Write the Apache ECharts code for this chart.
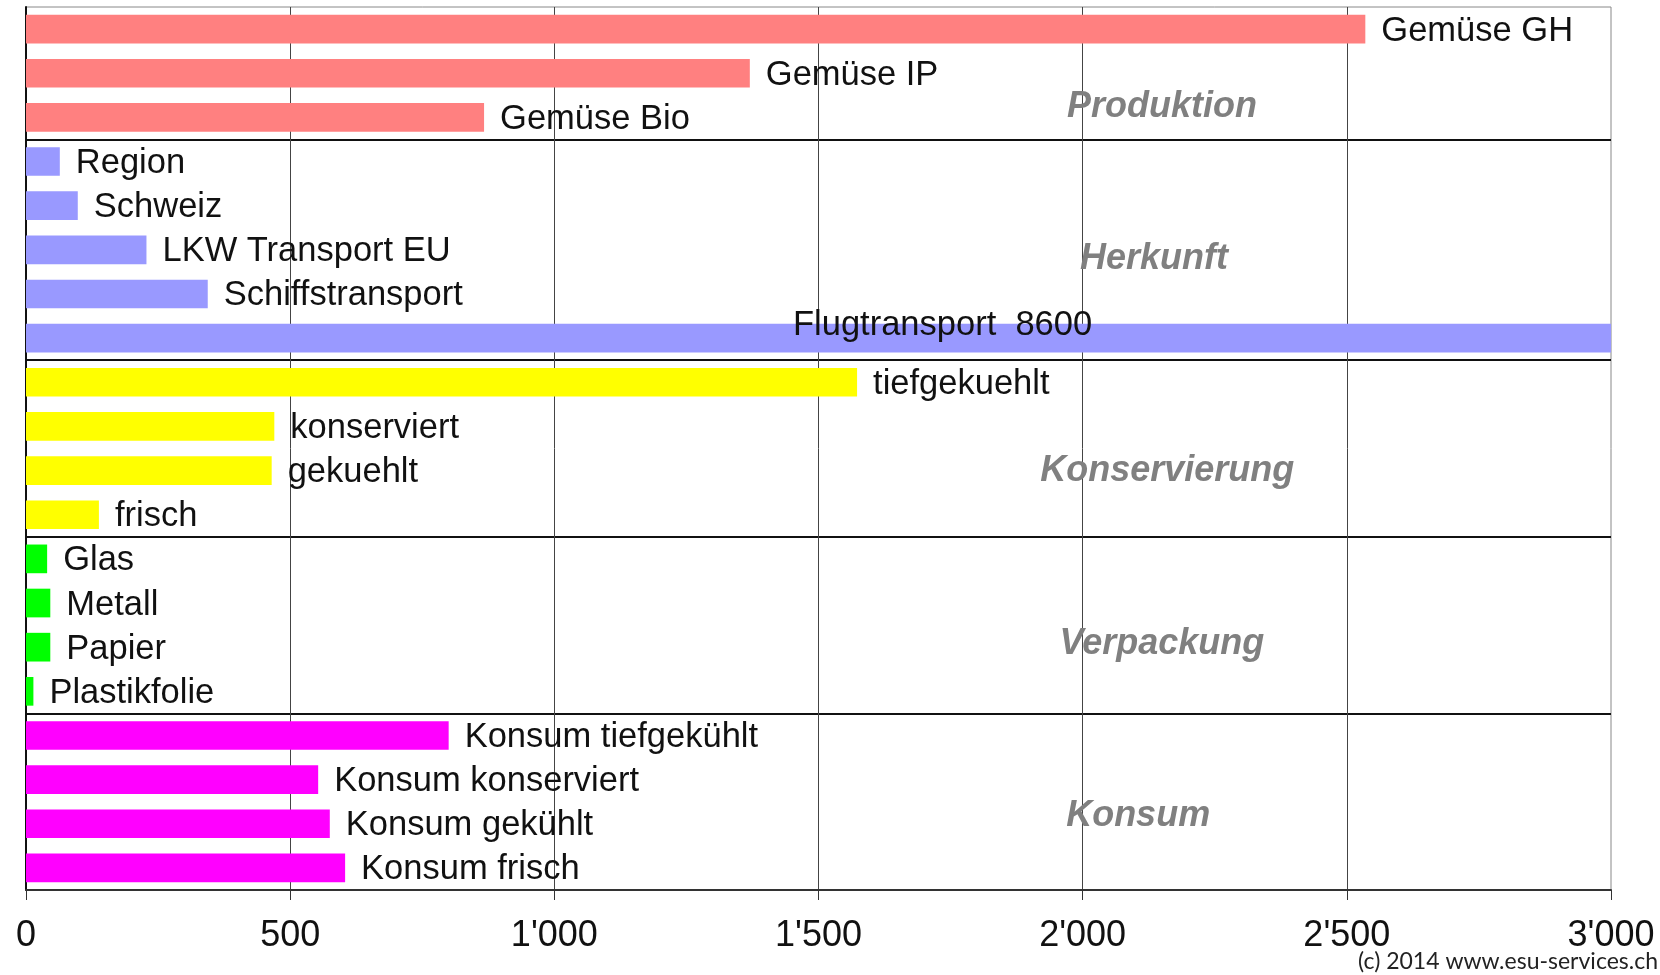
<!DOCTYPE html>
<html>
<head>
<meta charset="utf-8">
<script src="https://cdn.jsdelivr.net/npm/echarts@6/dist/echarts.min.js"></script>
<style>
  html, body { margin: 0; padding: 0; background: #fff; }
  #main { width: 1660px; height: 975px; }
</style>
</head>
<body>
<div id="main"></div>
<script>
// data (values clipped at 3000 on the axis)
var categories = [
    'Gemüse GH', 'Gemüse IP', 'Gemüse Bio',
    'Region', 'Schweiz', 'LKW Transport EU', 'Schiffstransport', 'Flugtransport',
    'tiefgekuehlt', 'konserviert', 'gekuehlt', 'frisch',
    'Glas', 'Metall', 'Papier', 'Plastikfolie',
    'Konsum tiefgekühlt', 'Konsum konserviert', 'Konsum gekühlt', 'Konsum frisch'
];
var values = [
    2535, 1370, 867,
    64, 98, 228, 344, 8600,
    1573, 470, 465, 138,
    40, 46, 46, 14,
    800, 553, 575, 604
];
var groupOf = [0, 0, 0, 1, 1, 1, 1, 1, 2, 2, 2, 2, 3, 3, 3, 3, 4, 4, 4, 4];
var groupNames = ['Produktion', 'Herkunft', 'Konservierung', 'Verpackung', 'Konsum'];
var groupColors = ['#ff8080', '#9999ff', '#ffff00', '#00ff00', '#ff00ff'];
var xMax = 3000;
var xStep = 500;

// where the grey group titles sit (row index, axis value)
var groupLabelRow = [1.77, 5.2, 10.02, 13.93, 17.83];
var groupLabelX = [2150, 2135, 2160, 2150, 2105];
// first category of every group after the first -> separator line above it
var groupStarts = [3, 8, 12, 16];

var font = '"Liberation Sans", Arial, sans-serif';
var chart = echarts.init(document.getElementById('main'));

var barData = values.map(function (v, i) {
    var item = { value: v, itemStyle: { color: groupColors[groupOf[i]] } };
    if (v > xMax) {
        // bar runs off the chart, the value is written on it
        item.label = {
            position: [767, 2],
            align: 'left',
            verticalAlign: 'middle',
            offset: [0, 0],
            formatter: '{b}  {c}'
        };
    }
    return item;
});

chart.setOption({
    animation: false,
    title: {
        text: '(c) 2014 www.esu-services.ch',
        right: 2,
        bottom: 2,
        padding: 0,
        textStyle: { fontFamily: 'Lato, "Open Sans", sans-serif', fontSize: 23, fontWeight: 'normal', color: '#222' }
    },
    grid: {
        left: 26, right: 49, top: 7, bottom: 85,
        show: true, borderColor: '#888', borderWidth: 1
    },
    xAxis: {
        type: 'value',
        min: 0,
        max: xMax,
        interval: xStep,
        axisLine: { show: true, lineStyle: { color: '#333', width: 2 } },
        axisTick: { show: true, length: 10, lineStyle: { color: '#333', width: 1 } },
        axisLabel: {
            margin: 28,
            fontFamily: font,
            fontSize: 36,
            color: '#111',
            formatter: function (v) {
                return String(v).replace(/\B(?=(\d{3})+(?!\d))/g, "'");
            }
        },
        splitLine: { show: true, showMinLine: false, showMaxLine: false, lineStyle: { color: '#444', width: 1 } }
    },
    yAxis: {
        type: 'category',
        inverse: true,
        data: categories,
        axisLine: { show: true, lineStyle: { color: '#111', width: 2 } },
        axisTick: { show: false },
        axisLabel: { show: false },
        splitLine: {
            show: true,
            interval: function (index) { return groupStarts.indexOf(index) >= 0; },
            lineStyle: { color: '#111', width: 2 }
        }
    },
    series: [{
        type: 'bar',
        barWidth: '65%',
        data: barData,
        label: {
            show: true,
            position: 'right',
            distance: 16,
            offset: [0, 2],
            fontFamily: font,
            fontSize: 34.5,
            color: '#111',
            formatter: '{b}'
        }
    }]
});

// grey group titles, placed from the axes
var p0 = chart.convertToPixel({ gridIndex: 0 }, [0, categories[0]]);
var p1 = chart.convertToPixel({ gridIndex: 0 }, [0, categories[1]]);
var step = p1[1] - p0[1];
chart.setOption({
    graphic: groupNames.map(function (name, g) {
        var x = chart.convertToPixel({ gridIndex: 0 }, [groupLabelX[g], categories[0]])[0];
        return {
            type: 'text',
            x: x,
            y: p0[1] + groupLabelRow[g] * step,
            z: 10,
            style: {
                text: name,
                fontFamily: font,
                fontSize: 36,
                fontWeight: 'bold',
                fontStyle: 'italic',
                fill: '#808080',
                align: 'center',
                verticalAlign: 'middle'
            }
        };
    })
});
</script>
</body>
</html>
